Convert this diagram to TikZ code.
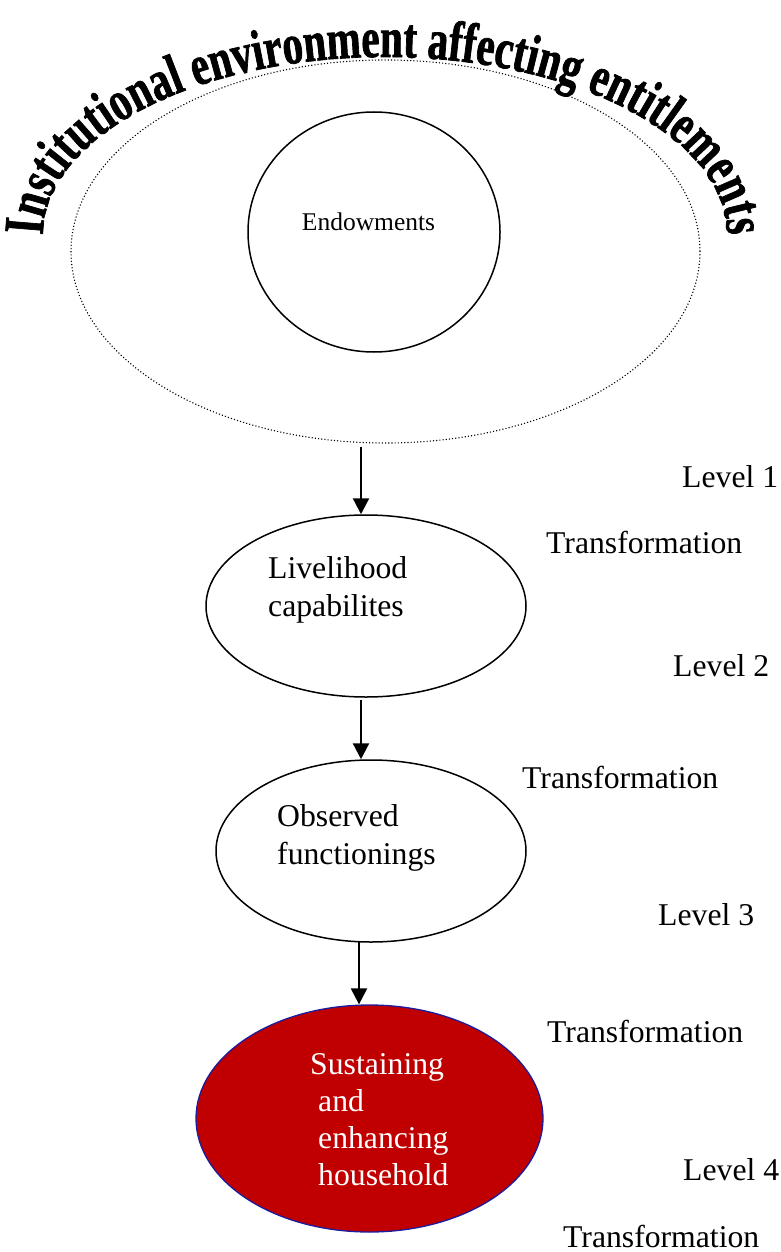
\documentclass[tikz,border=0pt]{standalone}
\usepackage{fontspec}
\setmainfont{Liberation Serif}
\newfontfamily\arcfont[FakeStretch=0.72, FakeBold=1.2]{Liberation Serif}
\usetikzlibrary{shapes.geometric,arrows.meta,decorations.text}
\definecolor{boxred}{HTML}{C00000}
\definecolor{rimblue}{HTML}{1C1C9C}
\tikzset{
	oval/.style={ellipse, draw, line width=1.5pt, inner sep=0pt},
	flow/.style={line width=2.3pt, -{Triangle[width=16pt,length=16pt]}},
	lbl/.style={font=\fontsize{31.7}{38}\selectfont, inner sep=0pt, align=left, anchor=base west},
}
\begin{document}
\begin{tikzpicture}[x=1pt, y=-1pt]
	%%%%% START %%%%%
	\useasboundingbox (0,0) rectangle (780,1252);
	
	% title bent over the top
	\path[decorate, decoration={text along path, text align=center,
		text={|\arcfont\bfseries\fontsize{57}{60}\selectfont|Institutional environment affecting entitlements}}]
		(385,235) ++(170:342 and 178) arc[start angle=170, end angle=370, x radius=342, y radius=178];
	
	\node[ellipse, draw, line width=1.1pt, dash pattern=on 1.1pt off 2.1pt, minimum width=629, minimum height=383] (env) at (385.5,251.5) {};
	\node[oval, minimum width=252, minimum height=240] (endow) at (374,232) {};
	\node[font=\fontsize{25.5}{30}\selectfont, inner sep=0pt, anchor=base] (endowtxt) at (368.5,230) {Endowments};
	
	\node[oval, minimum width=320, minimum height=182] (live) at (366,606) {};
	\node[lbl] (livetxt) at (268,616) {Livelihood\\capabilites};
	
	\node[oval, minimum width=310, minimum height=182] (obs) at (371,851) {};
	\node[lbl] (obstxt) at (277,864) {Observed\\functionings};
	
	\node[ellipse, draw=rimblue, fill=boxred, line width=1.3pt, inner sep=0pt, minimum width=347, minimum height=227] (red) at (369.5,1118.5) {};
	\node[lbl, font=\fontsize{31.7}{37}\selectfont, text=white] (redtxt) at (310,1185) {Sustaining\\\hspace*{8pt}and\\\hspace*{8pt}enhancing\\\hspace*{8pt}household};
	
	\draw[flow] ([xshift=-5, yshift=-3]live.north |- env.south) -- ([xshift=-5]live.north);
	\draw[flow] ([xshift=-5, yshift=-2]live.south) -- ([xshift=-10]obs.north);
	\draw[flow] ([xshift=-12, yshift=2]obs.south) -- ([xshift=-10.5]red.north);
	
	% levels and steps on the right
	\node[lbl] (lev1) at (682,487) {Level 1};
	\node[lbl] (tr1) at (546,553) {Transformation};
	\node[lbl] (lev2) at (673,676) {Level 2};
	\node[lbl] (tr2) at (522,788) {Transformation};
	\node[lbl] (lev3) at (658,925) {Level 3};
	\node[lbl] (tr3) at (547,1042) {Transformation};
	\node[lbl] (lev4) at (683,1180) {Level 4};
	\node[lbl] (tr4) at (563,1247) {Transformation};
	%%%%% END %%%%%
\end{tikzpicture}
\end{document}
